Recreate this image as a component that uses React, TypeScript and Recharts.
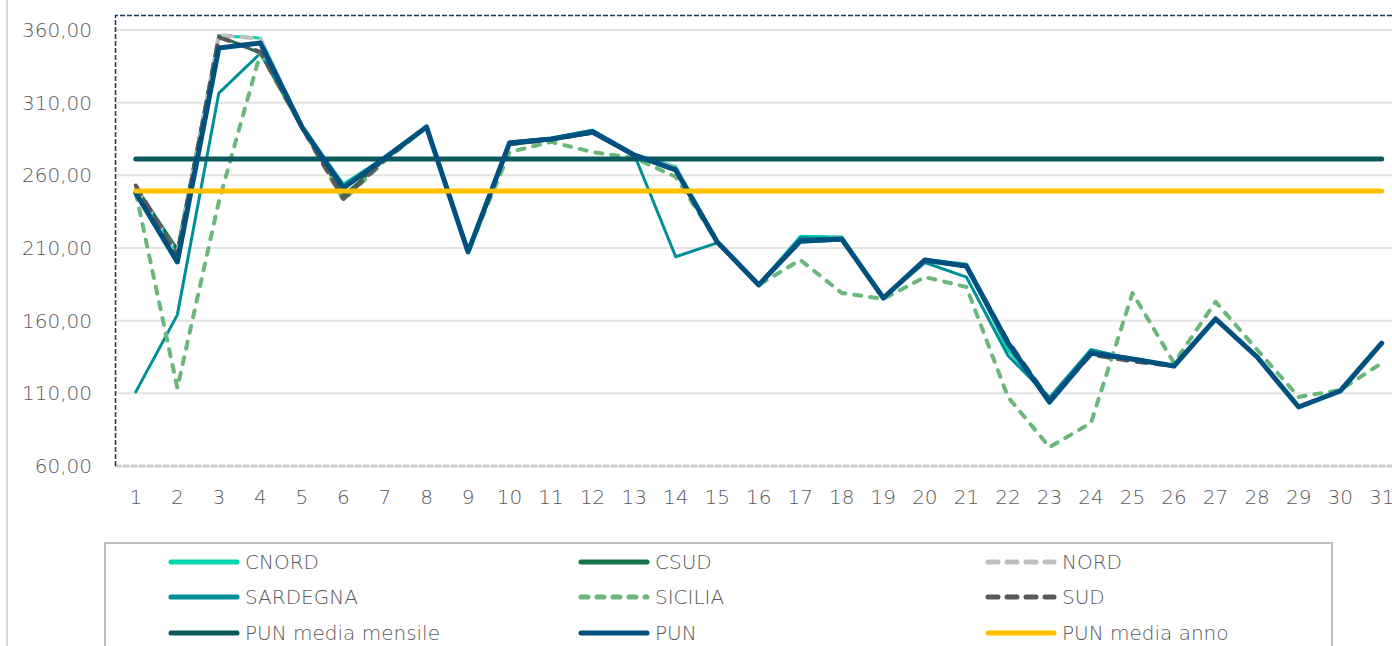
import { LineChart, Line, XAxis, YAxis, CartesianGrid, Legend } from "recharts"

// giorni del mese
const days = ["1", "2", "3", "4", "5", "6", "7", "8", "9", "10", "11", "12", "13", "14", "15", "16",
  "17", "18", "19", "20", "21", "22", "23", "24", "25", "26", "27", "28", "29", "30", "31"]

const yTicks = [60, 110, 160, 210, 260, 310, 360]

// prezzi zonali (€/MWh)
const cnord = [250, 207, 356, 354.5, 293, 254, 272.5, 293, 207.5, 283, 285.5, 291, 274.5, 266, 214.5, 184.6,
  218, 217.5, 175.6, 202, 199, 140, 107, 140, 133, 128.8, 161.2, 135, 100.6, 111.6, 144.6]
const csud = [252, 209, 356, 344, 293, 246, 271, 293.3, 207.3, 281, 284.5, 289, 274, 263, 214.2, 184.6,
  214, 215.5, 175.6, 201, 197, 144, 106, 137, 133, 128.8, 161.2, 135, 100.6, 111.6, 144.6]
const nord = [251, 206, 356.5, 354, 293.3, 252, 272, 293.3, 207.3, 282.5, 285, 290.5, 274, 265, 214.2, 184.6,
  216, 216.5, 175.6, 202, 198, 145, 105, 138, 134, 128.8, 161.2, 135, 100.6, 111.6, 144.6]
const sardegna = [111, 164, 316.6, 344, 293, 253, 272, 293.3, 207.3, 283, 285.5, 291, 274.5, 204, 213.5, 184.6,
  217, 216.5, 175.6, 200, 190, 136, 107, 140, 133.5, 128.8, 161.2, 135, 100.6, 111.6, 144.6]
const sicilia = [248, 113.7, 242, 344, 293, 243, 270, 293.3, 207.3, 276, 283, 276, 272, 259, 214.2, 184.6,
  201.8, 179, 175, 190, 183.2, 107.5, 73, 89.6, 179, 130.8, 173, 140, 107.5, 112.3, 130.8]
const sud = [253, 205, 355, 345, 293, 243.7, 271, 293.3, 207.3, 281.5, 284.5, 289.5, 274, 264, 214.2, 184.6,
  215, 216, 175.6, 201.5, 197.5, 146, 105.5, 136.5, 132, 128.8, 161.2, 135, 100.6, 111.6, 144.6]
const pun = [247.8, 200.4, 347.6, 351, 293.3, 251.3, 272, 293.3, 207.3, 282.3, 285, 289.8, 274, 263.7, 214.2, 184.6,
  214.8, 216.2, 175.6, 201.8, 197.6, 144.6, 104, 137.8, 133.6, 128.8, 161.2, 135, 100.6, 111.6, 144.6]

const punMediaMensile = 271.2
const punMediaAnno = 249.2

const series = [
  { key: "CNORD", values: cnord, color: "#00D4AE", width: 3, dash: undefined },
  { key: "CSUD", values: csud, color: "#16754A", width: 3, dash: undefined },
  { key: "NORD", values: nord, color: "#BFBFBF", width: 4, dash: "10 9" },
  { key: "SARDEGNA", values: sardegna, color: "#008F98", width: 3, dash: undefined },
  { key: "SICILIA", values: sicilia, color: "#6AB77B", width: 4, dash: "7 9" },
  { key: "SUD", values: sud, color: "#595959", width: 4, dash: "10 9" },
  { key: "PUN media mensile", values: days.map(() => punMediaMensile), color: "#0B585E", width: 5, dash: undefined },
  { key: "PUN", values: pun, color: "#00517F", width: 5, dash: undefined },
  { key: "PUN media anno", values: days.map(() => punMediaAnno), color: "#FFC000", width: 5, dash: undefined },
]

const data = days.map((day, i) => {
  const row: Record<string, string | number> = { day }
  series.forEach((s) => {
    row[s.key] = s.values[i]
  })
  return row
})

const FONT = "'DejaVu Sans', sans-serif"
const TEXT = "#595959"

const fmt = (v: number) => v.toFixed(2).replace(".", ",")

function LegendBox() {
  return (
    <div
      style={{
        display: "grid",
        gridTemplateColumns: "410px 407px 340px",
        gridAutoRows: "35.5px",
        paddingLeft: 62,
        boxSizing: "border-box",
        width: 1229,
        height: 120,
        border: "2px solid #BFBFBF",
        fontFamily: FONT,
        fontWeight: 300,
        fontSize: 20,
        lineHeight: "24px",
        color: TEXT,
      }}
    >
      {series.map((s) => (
        <div key={s.key} style={{ display: "flex", alignItems: "center", height: 35.5 }}>
          <svg width={72} height={10} style={{ display: "block" }}>
            <line
              x1={3}
              y1={5}
              x2={69}
              y2={5}
              stroke={s.color}
              strokeWidth={5}
              strokeLinecap="round"
              strokeDasharray={s.dash}
            />
          </svg>
          <span style={{ marginLeft: 5, whiteSpace: "nowrap" }}>{s.key}</span>
        </div>
      ))}
    </div>
  )
}

export default function App() {
  return (
    <div style={{ position: "absolute", left: 0, top: 0, width: 1392, height: 646, overflow: "hidden", background: "#fff" }}>
      <div style={{ position: "absolute", left: 6, top: 0, width: 2, height: 646, background: "#D9D9D9" }} />
      <LineChart
        width={1410}
        height={646}
        data={data}
        margin={{ top: 30, right: 7.5, left: 0, bottom: 140 }}
      >
        <CartesianGrid horizontal vertical={false} stroke="#E3E3E3" strokeWidth={2} />
        <XAxis
          dataKey="day"
          interval={0}
          height={40}
          padding={{ left: 20.8, right: 20.8 }}
          tickLine={false}
          tickSize={0}
          tickMargin={24}
          axisLine={{ stroke: "#C9CDD2", strokeWidth: 3, strokeDasharray: "6 2" }}
          tick={{ fill: TEXT, fontSize: 20, fontFamily: FONT, fontWeight: 300 }}
        />
        <YAxis
          domain={[60, 360]}
          ticks={yTicks}
          width={115}
          axisLine={false}
          tickLine={false}
          tickSize={0}
          tickMargin={23}
          tickFormatter={fmt}
          tick={{ fill: TEXT, fontSize: 20, fontFamily: FONT, fontWeight: 300 }}
        />
        <Legend
          layout="horizontal"
          verticalAlign="middle"
          align="center"
          wrapperStyle={{ position: "absolute", left: 104, top: 542, width: 1229 }}
          content={() => <LegendBox />}
        />
        {series.map((s) => (
          <Line
            key={s.key}
            type="linear"
            dataKey={s.key}
            stroke={s.color}
            strokeWidth={s.width}
            strokeDasharray={s.dash}
            strokeLinecap="round"
            strokeLinejoin="round"
            dot={false}
            activeDot={false}
            isAnimationActive={false}
          />
        ))}
      </LineChart>
      <svg width={1392} height={646} style={{ position: "absolute", left: 0, top: 0, pointerEvents: "none" }}>
        <path d="M115.5 466 V15.5 H1392" fill="none" stroke="#17375E" strokeWidth={1.5} strokeDasharray="5 2" />
      </svg>
    </div>
  )
}
